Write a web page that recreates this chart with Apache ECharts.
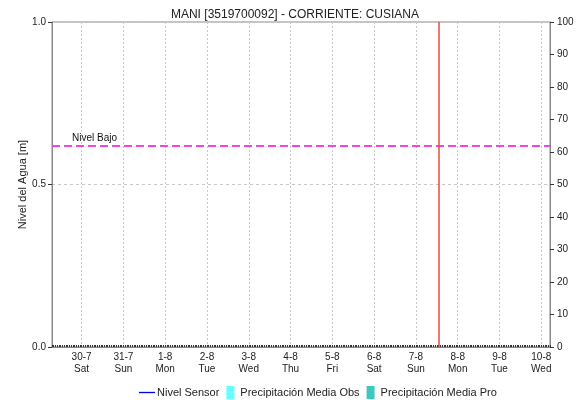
<!DOCTYPE html>
<html>
<head>
<meta charset="utf-8">
<script src="https://cdn.jsdelivr.net/npm/echarts@6/dist/echarts.min.js"></script>
<style>
    html, body { margin: 0; padding: 0; background: #fff; }
    #chart { width: 578px; height: 400px; }
</style>
</head>
<body>
<div id="chart"></div>
<script>
    // etiquetas de dias (eje x) y dia de semana
    var dayLabels = ['30-7', '31-7', '1-8', '2-8', '3-8', '4-8', '5-8', '6-8', '7-8', '8-8', '9-8', '10-8'];
    var weekDays = ['Sat', 'Sun', 'Mon', 'Tue', 'Wed', 'Thu', 'Fri', 'Sat', 'Sun', 'Mon', 'Tue', 'Wed'];
    // horas visibles antes del primer dia y despues del ultimo
    var hoursBefore = 17;
    var hoursAfter = 5;
    // series (sin datos en la grafica)
    var nivelSensor = [];
    var precipObs = [];
    var precipPro = [];
    // umbral y marca de hora actual
    var nivelBajo = 0.62;
    var nowMark = { day: 8, hour: 13 };

    // categorias horarias: dia_hora
    var categories = [];
    var total = hoursBefore + (dayLabels.length - 1) * 24 + hoursAfter;
    for (var i = 0; i <= total; i++) {
        var h = i - hoursBefore;
        var d = Math.floor(h / 24);
        var hh = h - d * 24;
        categories.push(d + '_' + hh);
    }
    function isMidnight(index, value) {
        return value.split('_')[1] === '0';
    }

    var chart = echarts.init(document.getElementById('chart'));
    var font = 'Liberation Sans, Arial, sans-serif';
    chart.setOption({
        animation: false,
        textStyle: { fontFamily: font },
        title: {
            text: 'MANI [3519700092] - CORRIENTE: CUSIANA',
            left: 290,
            textAlign: 'center',
            top: 4,
            textStyle: { fontSize: 12, fontWeight: 'normal', color: '#222', fontFamily: font }
        },
        grid: {
            left: 52,
            right: 28,
            top: 22,
            bottom: 53,
            show: true,
            borderColor: '#888',
            borderWidth: 1
        },
        legend: {
            top: 381,
            left: 134,
            itemGap: 7,
            itemWidth: 16,
            itemHeight: 13,
            textStyle: { fontSize: 11, color: '#222', fontFamily: font, padding: [0, 0, 0, -3] },
            data: [
                { name: 'Nivel Sensor', icon: 'path://M0,0h16v1.3h-16z' },
                { name: 'Precipitación Media Obs', icon: 'path://M0,0h8v13h-8z' },
                { name: 'Precipitación Media Pro', icon: 'path://M0,0h8v13h-8z' }
            ]
        },
        xAxis: {
            type: 'category',
            data: categories,
            boundaryGap: false,
            axisLine: { lineStyle: { color: '#888' } },
            axisTick: {
                interval: 0,
                length: 2,
                inside: true,
                lineStyle: { color: '#333' }
            },
            axisLabel: {
                interval: isMidnight,
                fontSize: 10,
                color: '#222',
                lineHeight: 12,
                margin: 4,
                formatter: function (value) {
                    var d = parseInt(value.split('_')[0], 10);
                    return dayLabels[d] + '\n' + weekDays[d];
                }
            },
            splitLine: {
                show: true,
                interval: isMidnight,
                lineStyle: { color: '#c8c8c8', type: [2, 2] }
            }
        },
        yAxis: [{
            type: 'value',
            min: 0,
            max: 1,
            interval: 0.5,
            name: 'Nivel del Agua [m]',
            nameLocation: 'middle',
            nameGap: 24,
            nameMoveOverlap: false,
            nameTextStyle: { fontSize: 11, color: '#222' },
            axisLine: { show: true, lineStyle: { color: '#888' } },
            axisTick: { show: true, length: 4, lineStyle: { color: '#333' } },
            axisLabel: {
                fontSize: 10,
                color: '#222',
                margin: 6,
                formatter: function (v) { return v.toFixed(1); }
            },
            splitLine: { show: true, lineStyle: { color: '#c8c8c8', type: [3, 3] } }
        }, {
            type: 'value',
            min: 0,
            max: 100,
            interval: 10,
            position: 'right',
            axisLine: { show: true, lineStyle: { color: '#888' } },
            axisTick: { show: true, length: 4, lineStyle: { color: '#333' } },
            axisLabel: { fontSize: 10, color: '#222', margin: 7 },
            splitLine: { show: false }
        }],
        series: [{
            name: 'Nivel Sensor',
            type: 'line',
            symbol: 'none',
            yAxisIndex: 0,
            lineStyle: { color: '#0000ee', width: 1 },
            itemStyle: { color: '#0000ee' },
            data: nivelSensor,
            markLine: {
                silent: true,
                symbol: 'none',
                animation: false,
                data: [{
                    yAxis: nivelBajo,
                    lineStyle: { color: '#ee44ee', type: [8, 4], width: 2 },
                    label: {
                        show: true,
                        position: 'insideStartTop',
                        formatter: 'Nivel Bajo',
                        fontSize: 10,
                        color: '#111',
                        distance: [20, 2]
                    }
                }, {
                    xAxis: nowMark.day + '_' + nowMark.hour,
                    lineStyle: { color: '#e84848', type: 'solid', width: 1.5 },
                    label: { show: false }
                }]
            }
        }, {
            name: 'Precipitación Media Obs',
            type: 'bar',
            yAxisIndex: 1,
            itemStyle: { color: '#66ffff' },
            data: precipObs
        }, {
            name: 'Precipitación Media Pro',
            type: 'bar',
            yAxisIndex: 1,
            itemStyle: { color: '#40c8c0' },
            data: precipPro
        }]
    });
</script>
</body>
</html>
